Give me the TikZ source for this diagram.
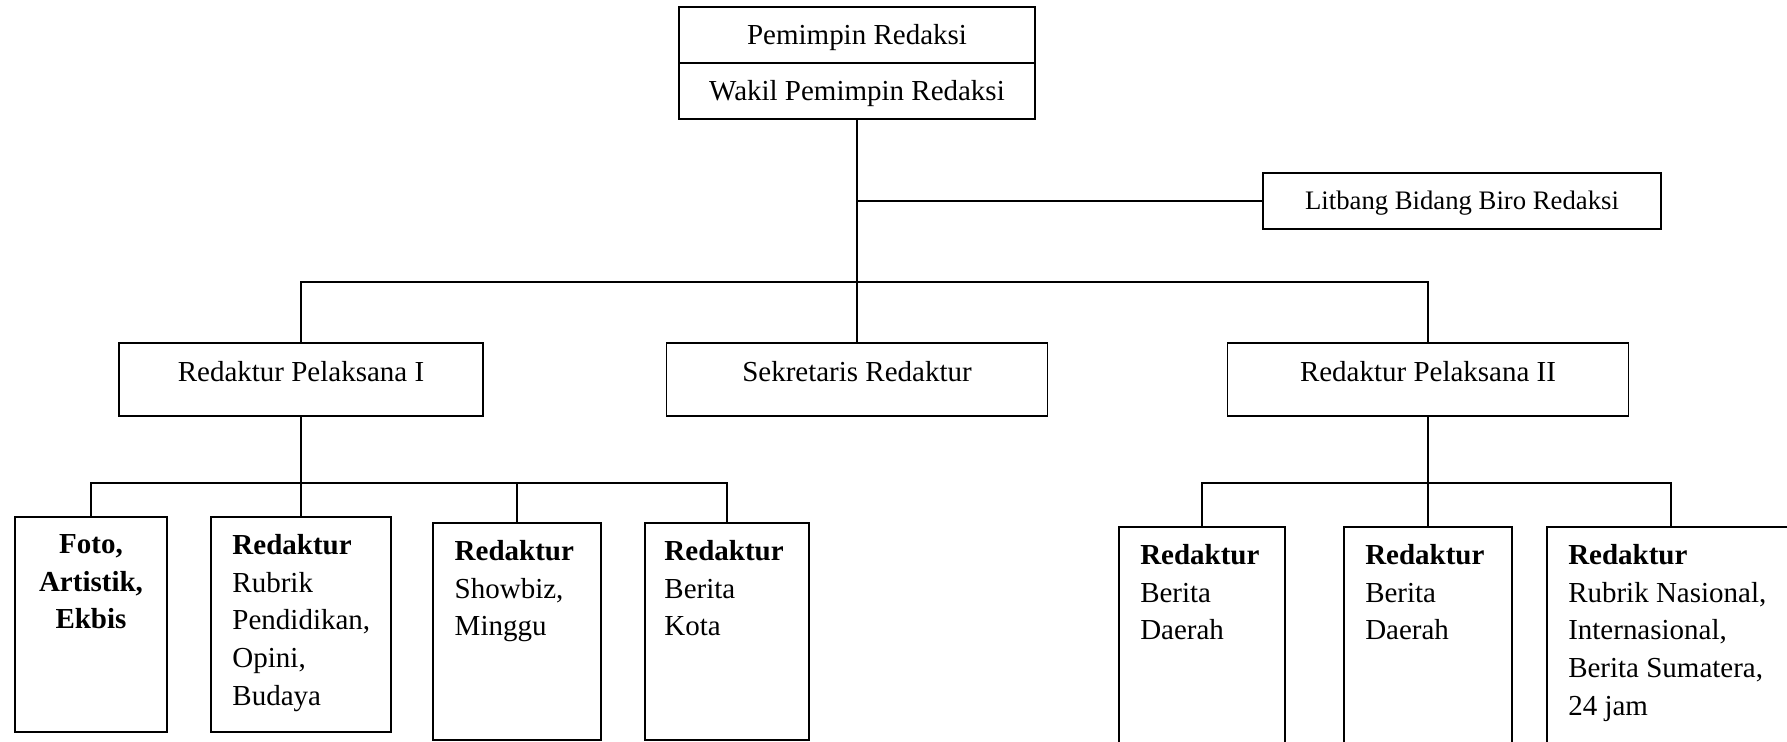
\documentclass[tikz,border=0pt]{standalone}
\usepackage{fontspec}
\setmainfont{Liberation Serif}
\usepackage{tikz}
\tikzstyle{line} = [line width=1pt]
\tikzstyle{orgbox} = [rectangle, draw=black, line width=1pt, inner sep=0pt,
text centered, font=\fontsize{16.5}{19.8}\selectfont]
\tikzstyle{unitbox} = [rectangle, draw=black, line width=1pt, inner sep=0pt]
\tikzstyle{unittext} = [anchor=north west, inner sep=0pt, align=left,
font=\fontsize{16.5}{21.4}\selectfont]

\begin{document}
\begin{tikzpicture}[x=0.02cm, y=-0.02cm]
      \useasboundingbox (0,0) rectangle (1787,741);

      % top
      \node (pr) [orgbox, minimum width=7.12cm, minimum height=1.12cm,
        text height=11pt, text depth=0pt] at (857,35) {Pemimpin Redaksi};
      \node (wpr) [orgbox, minimum width=7.12cm, minimum height=1.12cm,
        text height=11pt, text depth=0pt] at (857,91) {Wakil Pemimpin Redaksi};
      \node (litbang) [orgbox, minimum width=7.96cm, minimum height=1.12cm,
        text height=10pt, text depth=0pt,
        font=\fontsize{15.2}{18.2}\selectfont] at (1462,201) {Litbang Bidang Biro Redaksi};

      % second level
      \node (rp1) [orgbox, minimum width=7.29cm, minimum height=1.46cm,
        text height=11pt, text depth=9pt] at (301,379.5) {Redaktur Pelaksana I};
      \node (sek) [orgbox, minimum width=7.62cm, minimum height=1.46cm,
        text height=11pt, text depth=9pt] at (857,379.5) {Sekretaris Redaktur};
      \node (rp2) [orgbox, minimum width=8.02cm, minimum height=1.46cm,
        text height=11pt, text depth=9pt] at (1428,379.5) {Redaktur Pelaksana II};

      % third level
      \node (foto) [unitbox, minimum width=3.04cm, minimum height=4.3cm] at (91,624.5) {};
      \node (rubrik) [unitbox, minimum width=3.6cm, minimum height=4.3cm] at (301,624.5) {};
      \node (showbiz) [unitbox, minimum width=3.35cm, minimum height=4.34cm] at (517,631.5) {};
      \node (kota) [unitbox, minimum width=3.28cm, minimum height=4.34cm] at (727,631.5) {};
      \node (daerah1) [unitbox, minimum width=3.33cm, minimum height=4.36cm] at (1202,636) {};
      \node (daerah2) [unitbox, minimum width=3.37cm, minimum height=4.36cm] at (1428,636) {};
      \node (nasional) [unitbox, minimum width=4.97cm, minimum height=4.36cm] at (1671,636) {};

      \node (fototxt) [unittext, anchor=north, align=center] at ([yshift=-0.36cm]foto.north)
        {\textbf{Foto,}\\\textbf{Artistik,}\\\textbf{Ekbis}};
      \node (rubriktxt) [unittext] at ([xshift=0.44cm, yshift=-0.36cm]rubrik.north west)
        {\textbf{Redaktur}\\Rubrik\\Pendidikan,\\Opini,\\Budaya};
      \node (showbiztxt) [unittext] at ([xshift=0.44cm, yshift=-0.36cm]showbiz.north west)
        {\textbf{Redaktur}\\Showbiz,\\Minggu};
      \node (kotatxt) [unittext] at ([xshift=0.4cm, yshift=-0.36cm]kota.north west)
        {\textbf{Redaktur}\\Berita\\Kota};
      \node (daerah1txt) [unittext] at ([xshift=0.44cm, yshift=-0.36cm]daerah1.north west)
        {\textbf{Redaktur}\\Berita\\Daerah};
      \node (daerah2txt) [unittext] at ([xshift=0.44cm, yshift=-0.36cm]daerah2.north west)
        {\textbf{Redaktur}\\Berita\\Daerah};
      \node (nasionaltxt) [unittext] at ([xshift=0.44cm, yshift=-0.36cm]nasional.north west)
        {\textbf{Redaktur}\\Rubrik Nasional,\\Internasional,\\Berita Sumatera,\\24 jam};

      \coordinate (lbus) at (301,483);
      \coordinate (rbus) at (1428,483);

      \draw [line] (wpr.south) -- (sek.north);
      \draw [line] (litbang.west) -- (litbang.west -| wpr.south);
      \draw [line] (rp1.north) -- ++(0,-60) -| (rp2.north);

      \draw [line] (rp1.south) -- (lbus);
      \draw [line] (foto.north) |- (kota.north |- lbus) -- (kota.north);
      \draw [line] (rubrik.north) -- (rubrik.north |- lbus);
      \draw [line] (showbiz.north) -- (showbiz.north |- lbus);

      \draw [line] (rp2.south) -- (rbus);
      \draw [line] (daerah1.north) |- (nasional.north |- rbus) -- (nasional.north);
      \draw [line] (daerah2.north) -- (daerah2.north |- rbus);
    \end{tikzpicture}
\end{document}
